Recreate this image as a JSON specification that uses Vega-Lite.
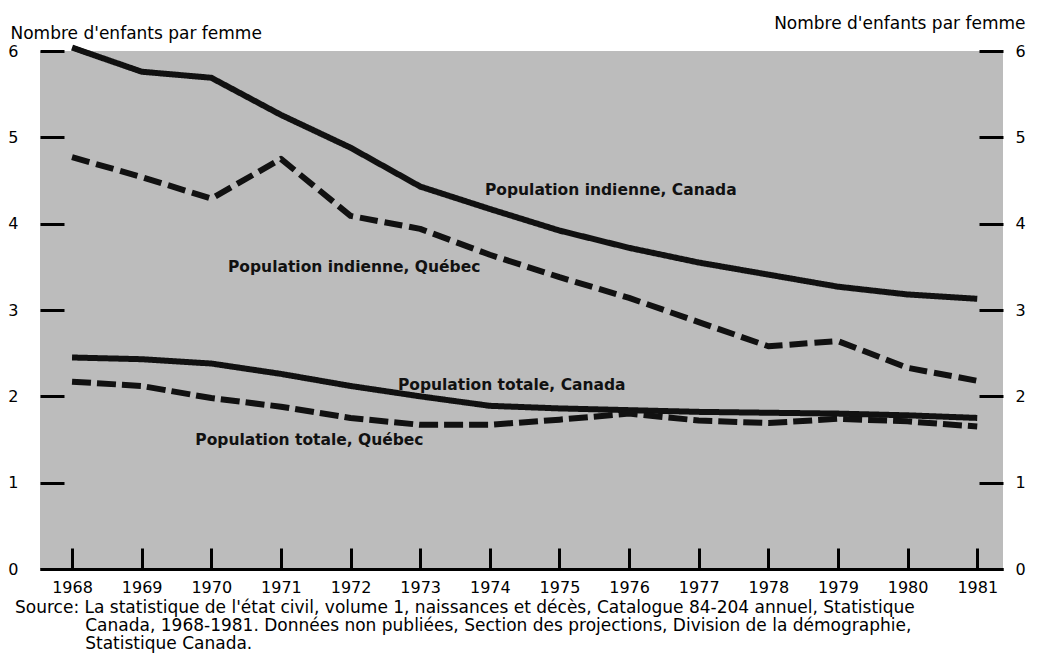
{
  "$schema": "https://vega.github.io/schema/vega-lite/v6.json",
  "width": 963,
  "height": 518,
  "autosize": {"type": "none"},
  "padding": {"left": 40, "top": 51, "right": 34, "bottom": 88},
  "background": "white",
  "config": {"view": {"fill": "#bcbcbc", "stroke": null}, "font": "DejaVu Sans"},
  "title": {
    "text": [
      "Source: La statistique de l'état civil, volume 1, naissances et décès, Catalogue 84-204 annuel, Statistique",
      "\u200b\u00a0\u00a0\u00a0\u00a0\u00a0\u00a0\u00a0\u00a0\u00a0\u00a0\u00a0\u00a0\u00a0Canada, 1968-1981. Données non publiées, Section des projections, Division de la démographie,",
      "\u200b\u00a0\u00a0\u00a0\u00a0\u00a0\u00a0\u00a0\u00a0\u00a0\u00a0\u00a0\u00a0\u00a0Statistique Canada."
    ],
    "orient": "bottom",
    "anchor": "start",
    "frame": "group",
    "align": "left",
    "dx": -25,
    "offset": 5,
    "font": "DejaVu Sans",
    "fontSize": 17,
    "fontWeight": "normal",
    "color": "black",
    "lineHeight": 18
  },
  "datasets": {
    "series": [
      {"series": "Population indienne, Canada", "year": 1968, "value": 6.04},
      {"series": "Population indienne, Canada", "year": 1969, "value": 5.76},
      {"series": "Population indienne, Canada", "year": 1970, "value": 5.69},
      {"series": "Population indienne, Canada", "year": 1971, "value": 5.26},
      {"series": "Population indienne, Canada", "year": 1972, "value": 4.88},
      {"series": "Population indienne, Canada", "year": 1973, "value": 4.43},
      {"series": "Population indienne, Canada", "year": 1974, "value": 4.17},
      {"series": "Population indienne, Canada", "year": 1975, "value": 3.92},
      {"series": "Population indienne, Canada", "year": 1976, "value": 3.72},
      {"series": "Population indienne, Canada", "year": 1977, "value": 3.55},
      {"series": "Population indienne, Canada", "year": 1978, "value": 3.41},
      {"series": "Population indienne, Canada", "year": 1979, "value": 3.27},
      {"series": "Population indienne, Canada", "year": 1980, "value": 3.18},
      {"series": "Population indienne, Canada", "year": 1981, "value": 3.13},
      {"series": "Population indienne, Québec", "year": 1968, "value": 4.77},
      {"series": "Population indienne, Québec", "year": 1969, "value": 4.54},
      {"series": "Population indienne, Québec", "year": 1970, "value": 4.29},
      {"series": "Population indienne, Québec", "year": 1971, "value": 4.75},
      {"series": "Population indienne, Québec", "year": 1972, "value": 4.09},
      {"series": "Population indienne, Québec", "year": 1973, "value": 3.94},
      {"series": "Population indienne, Québec", "year": 1974, "value": 3.64},
      {"series": "Population indienne, Québec", "year": 1975, "value": 3.38},
      {"series": "Population indienne, Québec", "year": 1976, "value": 3.14},
      {"series": "Population indienne, Québec", "year": 1977, "value": 2.86},
      {"series": "Population indienne, Québec", "year": 1978, "value": 2.58},
      {"series": "Population indienne, Québec", "year": 1979, "value": 2.64},
      {"series": "Population indienne, Québec", "year": 1980, "value": 2.33},
      {"series": "Population indienne, Québec", "year": 1981, "value": 2.18},
      {"series": "Population totale, Canada", "year": 1968, "value": 2.45},
      {"series": "Population totale, Canada", "year": 1969, "value": 2.43},
      {"series": "Population totale, Canada", "year": 1970, "value": 2.38},
      {"series": "Population totale, Canada", "year": 1971, "value": 2.26},
      {"series": "Population totale, Canada", "year": 1972, "value": 2.12},
      {"series": "Population totale, Canada", "year": 1973, "value": 2.00},
      {"series": "Population totale, Canada", "year": 1974, "value": 1.89},
      {"series": "Population totale, Canada", "year": 1975, "value": 1.86},
      {"series": "Population totale, Canada", "year": 1976, "value": 1.84},
      {"series": "Population totale, Canada", "year": 1977, "value": 1.82},
      {"series": "Population totale, Canada", "year": 1978, "value": 1.81},
      {"series": "Population totale, Canada", "year": 1979, "value": 1.80},
      {"series": "Population totale, Canada", "year": 1980, "value": 1.78},
      {"series": "Population totale, Canada", "year": 1981, "value": 1.75},
      {"series": "Population totale, Québec", "year": 1968, "value": 2.17},
      {"series": "Population totale, Québec", "year": 1969, "value": 2.12},
      {"series": "Population totale, Québec", "year": 1970, "value": 1.98},
      {"series": "Population totale, Québec", "year": 1971, "value": 1.88},
      {"series": "Population totale, Québec", "year": 1972, "value": 1.75},
      {"series": "Population totale, Québec", "year": 1973, "value": 1.67},
      {"series": "Population totale, Québec", "year": 1974, "value": 1.67},
      {"series": "Population totale, Québec", "year": 1975, "value": 1.73},
      {"series": "Population totale, Québec", "year": 1976, "value": 1.80},
      {"series": "Population totale, Québec", "year": 1977, "value": 1.72},
      {"series": "Population totale, Québec", "year": 1978, "value": 1.69},
      {"series": "Population totale, Québec", "year": 1979, "value": 1.74},
      {"series": "Population totale, Québec", "year": 1980, "value": 1.71},
      {"series": "Population totale, Québec", "year": 1981, "value": 1.65}
    ],
    "labels": [
      {"label": "Population indienne, Canada", "year": 1973.93, "value": 4.39},
      {"label": "Population indienne, Québec", "year": 1970.24, "value": 3.50},
      {"label": "Population totale, Canada", "year": 1972.68, "value": 2.13},
      {"label": "Population totale, Québec", "year": 1969.77, "value": 1.49}
    ]
  },
  "layer": [
    {
      "data": {"name": "series"},
      "mark": {"type": "line", "color": "#111111", "clip": false, "strokeCap": "butt", "strokeJoin": "round"},
      "encoding": {
        "x": {
          "field": "year", "type": "quantitative",
          "scale": {"domain": [1967.54, 1981.37], "nice": false, "zero": false},
          "axis": {
            "values": [1968, 1969, 1970, 1971, 1972, 1973, 1974, 1975, 1976, 1977, 1978, 1979, 1980, 1981],
            "format": "d", "title": null, "grid": false,
            "domainWidth": 3, "domainColor": "black",
            "tickSize": -21, "tickWidth": 3, "tickColor": "black",
            "labelPadding": 31, "labelFontSize": 16, "labelColor": "black", "labelFont": "DejaVu Sans",
            "labelFlush": false, "labelOverlap": false
          }
        },
        "y": {
          "field": "value", "type": "quantitative",
          "scale": {"domain": [0, 6], "nice": false},
          "axis": {
            "orient": "left",
            "values": [0, 1, 2, 3, 4, 5, 6],
            "title": "Nombre d'enfants par femme",
            "titleAngle": 0, "titleAlign": "left", "titleBaseline": "alphabetic",
            "titleX": -30, "titleY": -13,
            "titleFontSize": 17, "titleFontWeight": "normal", "titleColor": "black", "titleFont": "DejaVu Sans",
            "domain": false, "grid": false,
            "tickSize": -24, "tickWidth": 3, "tickColor": "black",
            "labelPadding": 46, "labelFontSize": 16, "labelColor": "black", "labelFont": "DejaVu Sans",
            "labelFlush": false, "labelOverlap": false
          }
        },
        "detail": {"field": "series", "type": "nominal"},
        "strokeDash": {
          "field": "series", "type": "nominal",
          "scale": {
            "domain": ["Population indienne, Canada", "Population indienne, Québec", "Population totale, Canada", "Population totale, Québec"],
            "range": [[1, 0], [18, 7], [1, 0], [19, 6]]
          },
          "legend": null
        },
        "strokeWidth": {
          "field": "series", "type": "ordinal",
          "scale": {
            "domain": ["Population indienne, Canada", "Population indienne, Québec", "Population totale, Canada", "Population totale, Québec"],
            "range": [6, 6, 3.5, 4]
          },
          "legend": null
        }
      }
    },
    {
      "data": {"name": "labels"},
      "mark": {"type": "text", "align": "left", "baseline": "middle", "font": "DejaVu Sans", "fontWeight": "bold", "fontSize": 15.5, "color": "#111111"},
      "encoding": {
        "x": {"field": "year", "type": "quantitative"},
        "y": {
          "field": "value", "type": "quantitative",
          "scale": {"domain": [0, 6], "nice": false},
          "axis": {
            "orient": "right",
            "values": [0, 1, 2, 3, 4, 5, 6],
            "title": "Nombre d'enfants par femme",
            "titleAngle": 0, "titleAlign": "right", "titleBaseline": "alphabetic",
            "titleX": 22, "titleY": -23,
            "titleFontSize": 17, "titleFontWeight": "normal", "titleColor": "black", "titleFont": "DejaVu Sans",
            "domain": false, "grid": false,
            "tickSize": -24, "tickWidth": 3, "tickColor": "black",
            "labelPadding": 36, "labelAlign": "left", "labelFontSize": 16, "labelColor": "black", "labelFont": "DejaVu Sans",
            "labelFlush": false, "labelOverlap": false
          }
        },
        "text": {"field": "label"}
      }
    }
  ],
  "resolve": {"scale": {"y": "independent"}}
}
